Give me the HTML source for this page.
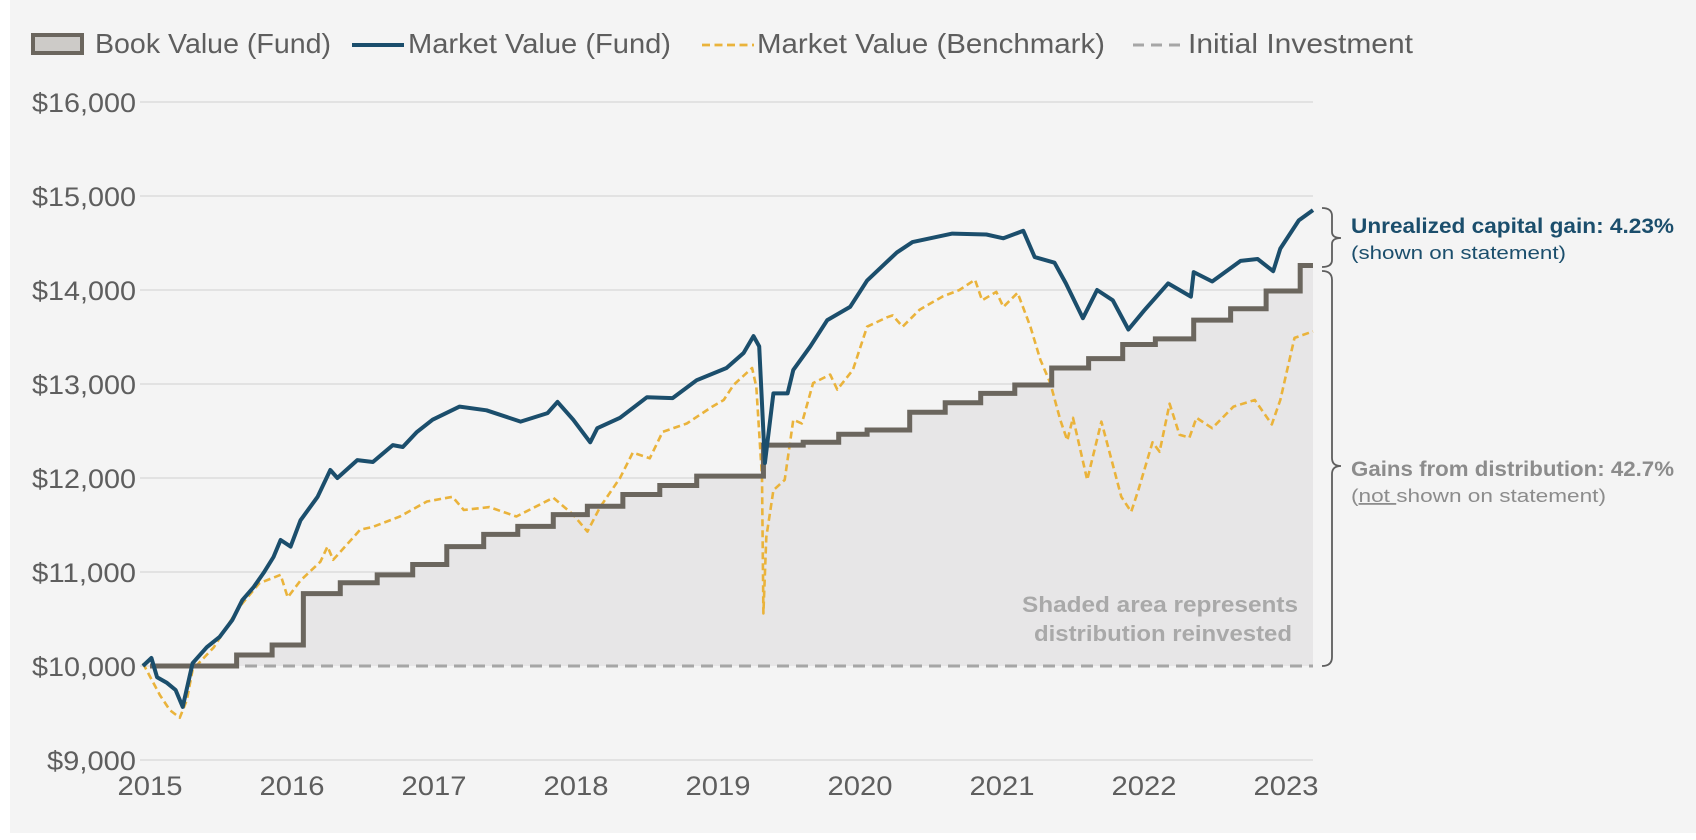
<!DOCTYPE html>
<html><head><meta charset="utf-8">
<style>
html,body{margin:0;padding:0;background:#fff;}
body{width:1696px;height:840px;overflow:hidden;font-family:"Liberation Sans",sans-serif;}
#panel{position:absolute;left:10px;top:0;width:1686px;height:833px;background:#f4f4f4;}
svg{position:absolute;left:0;top:0;}
</style></head>
<body>
<div id="panel"></div>
<svg id="chart" width="1696" height="840"></svg>
<script>
// ---- data ----
const yTicks = [9000,10000,11000,12000,13000,14000,15000,16000];
const yTickLabels = ["$9,000","$10,000","$11,000","$12,000","$13,000","$14,000","$15,000","$16,000"];
const xTicks = [2015,2016,2017,2018,2019,2020,2021,2022,2023];
const xTickLabels = ["2015","2016","2017","2018","2019","2020","2021","2022","2023"];
const initialInvestment = 10000;
const startDate = 2014.95;
const endDate = 2023.19;
const bookDates = [2015.0,2015.61,2015.86,2016.08,2016.34,2016.60,2016.85,2017.09,2017.35,2017.59,2017.84,2018.08,2018.33,2018.59,2018.85,2019.32,2019.60,2019.85,2020.05,2020.35,2020.60,2020.85,2021.09,2021.35,2021.61,2021.85,2022.08,2022.35,2022.61,2022.86,2023.10];
const bookValues = [10000,10117,10223,10770,10886,10970,11080,11270,11400,11485,11610,11700,11825,11920,12020,12350,12380,12465,12510,12700,12800,12900,12990,13170,13270,13420,13480,13680,13800,13990,14260];
const fundDates = [2014.95,2015.01,2015.05,2015.12,2015.18,2015.23,2015.30,2015.40,2015.49,2015.58,2015.65,2015.73,2015.80,2015.87,2015.92,2015.99,2016.06,2016.18,2016.27,2016.32,2016.46,2016.57,2016.71,2016.78,2016.88,2016.99,2017.18,2017.37,2017.61,2017.80,2017.87,2017.98,2018.10,2018.15,2018.31,2018.50,2018.68,2018.85,2019.06,2019.18,2019.25,2019.29,2019.33,2019.39,2019.49,2019.53,2019.65,2019.77,2019.93,2020.05,2020.26,2020.37,2020.65,2020.89,2021.01,2021.15,2021.23,2021.37,2021.45,2021.57,2021.67,2021.78,2021.89,2022.00,2022.17,2022.33,2022.35,2022.48,2022.68,2022.80,2022.91,2022.96,2023.09,2023.19];
const fundValues = [10000,10085,9880,9820,9745,9565,10030,10200,10310,10490,10700,10840,10990,11160,11340,11270,11550,11800,12085,12000,12190,12170,12350,12330,12490,12620,12760,12720,12600,12690,12810,12620,12380,12530,12640,12860,12850,13040,13170,13330,13510,13400,12160,12900,12900,13150,13400,13680,13820,14100,14400,14510,14600,14590,14550,14630,14350,14290,14070,13700,14000,13890,13580,13780,14070,13930,14190,14090,14310,14330,14200,14440,14740,14850];
const benchDates = [2014.95,2015.07,2015.14,2015.21,2015.26,2015.30,2015.45,2015.63,2015.77,2015.92,2015.97,2016.06,2016.20,2016.25,2016.29,2016.48,2016.57,2016.76,2016.95,2017.13,2017.21,2017.39,2017.58,2017.84,2017.98,2018.08,2018.17,2018.31,2018.40,2018.52,2018.61,2018.78,2018.96,2019.04,2019.11,2019.24,2019.27,2019.31,2019.32,2019.34,2019.39,2019.47,2019.53,2019.59,2019.67,2019.79,2019.84,2019.95,2020.05,2020.19,2020.23,2020.30,2020.42,2020.58,2020.70,2020.81,2020.86,2020.96,2021.01,2021.11,2021.20,2021.27,2021.34,2021.41,2021.46,2021.50,2021.60,2021.70,2021.84,2021.91,2021.96,2022.06,2022.11,2022.18,2022.25,2022.32,2022.37,2022.48,2022.63,2022.78,2022.90,2022.96,2023.06,2023.19];
const benchValues = [10030,9690,9530,9450,9640,9960,10200,10630,10880,10970,10730,10910,11110,11270,11130,11450,11480,11590,11750,11800,11660,11690,11590,11790,11610,11430,11690,12000,12270,12210,12490,12580,12760,12830,12990,13170,12970,12010,10560,11370,11870,11980,12620,12580,13010,13100,12940,13150,13610,13710,13730,13610,13790,13930,14000,14110,13890,13980,13820,13970,13610,13260,13010,12620,12400,12640,11980,12600,11800,11640,11870,12380,12280,12790,12460,12430,12640,12530,12760,12830,12570,12830,13490,13560];

// ---- axes ----
const X0 = 150, PXY = 142;
const xs = t => X0 + (t - 2015) * PXY;
const ys = v => 666 - (v - 10000) * 0.094;
const GRID_L = 140, GRID_R = 1313;
const NS = "http://www.w3.org/2000/svg";
const svg = document.getElementById("chart");
function mk(tag, attrs, parent){const e=document.createElementNS(NS,tag);for(const k in attrs)e.setAttribute(k,attrs[k]);(parent||svg).appendChild(e);return e;}

const gGrid = mk("g",{});


yTicks.forEach((v,i)=>{
  if (v !== initialInvestment) {
    const l = mk("line",{x1:GRID_L,x2:GRID_R,y1:ys(v),y2:ys(v),stroke:"#dcdcdc","stroke-width":1.5},gGrid);
    
    
  }
  const lab = yTickLabels[i];
  const w = lab.length >= 7 ? 104 : 89;
  const t = mk("text",{x:136-w,y:ys(v)+10,"font-size":27,fill:"#5e5e5e",textLength:w,lengthAdjust:"spacingAndGlyphs"});
  t.textContent = lab;
  
  
});
xTicks.forEach((yr,i)=>{
  const t = mk("text",{x:xs(yr)-32.5,y:795,"font-size":27,fill:"#5e5e5e",textLength:65,lengthAdjust:"spacingAndGlyphs"});
  t.textContent = xTickLabels[i];
  
  
});

let stepPts = [];
for (let i=0;i<bookDates.length;i++){
  const x = xs(bookDates[i]);
  if (i>0) stepPts.push([x, ys(bookValues[i-1])]);
  stepPts.push([x, ys(bookValues[i])]);
}
stepPts.push([xs(endDate), ys(bookValues[bookValues.length-1])]);
const fillD = "M"+stepPts.map(p=>p.join(",")).join(" L")+` L${xs(endDate)},${ys(initialInvestment)} L${xs(bookDates[0])},${ys(initialInvestment)} Z`;
const area = mk("path",{d:fillD,fill:"#e7e6e7"});



const init = mk("line",{x1:xs(bookDates[0]),x2:GRID_R,y1:ys(initialInvestment),y2:ys(initialInvestment),stroke:"#a6a6a6","stroke-width":3,"stroke-dasharray":"12,7"});


const gl9 = mk("line",{x1:GRID_L,x2:xs(bookDates[0]),y1:ys(initialInvestment),y2:ys(initialInvestment),stroke:"#dcdcdc","stroke-width":1.5});



const n1 = mk("text",{x:1022,y:612,"font-size":22,"font-weight":"bold",fill:"#a9a9a9",textLength:276,lengthAdjust:"spacingAndGlyphs"});
n1.textContent = "Shaded area represents";


const n2 = mk("text",{x:1034,y:641,"font-size":22,"font-weight":"bold",fill:"#a9a9a9",textLength:258,lengthAdjust:"spacingAndGlyphs"});
n2.textContent = "distribution reinvested";



const bd = benchDates.map((d,i)=>`${xs(d).toFixed(1)},${ys(benchValues[i]).toFixed(1)}`).join(" L");
const bench = mk("path",{d:"M"+bd,fill:"none",stroke:"#eab33b","stroke-width":2.6,"stroke-dasharray":"7,4","stroke-linejoin":"round"});



const book = mk("path",{d:"M"+stepPts.map(p=>p.join(",")).join(" L"),fill:"none",stroke:"#6b665e","stroke-width":5});



const fd = fundDates.map((d,i)=>`${xs(d).toFixed(1)},${ys(fundValues[i]).toFixed(1)}`).join(" L");
const fund = mk("path",{d:"M"+fd,fill:"none",stroke:"#1b4e6c","stroke-width":4,"stroke-linejoin":"round"});



const br1 = mk("path",{d:"M1322,208 Q1332,208 1332,216 L1332,232 Q1332,238 1341,238 Q1332,238 1332,244 L1332,260 Q1332,267 1322,267",fill:"none",stroke:"#5e5e5e","stroke-width":1.8});


const br2 = mk("path",{d:"M1322,271 Q1332,271 1332,280 L1332,458 Q1332,466 1341,466 Q1332,466 1332,474 L1332,657 Q1332,666 1322,666",fill:"none",stroke:"#5e5e5e","stroke-width":1.8});


</script>
<svg width="1696" height="840" style="position:absolute;left:0;top:0">
  <g font-family="Liberation Sans, sans-serif" font-size="28" fill="#5e5e5e">
    <rect x="33" y="35" width="49" height="18" fill="#cdcbc8" stroke="#6b665e" stroke-width="4"/>
    <text x="95" y="53" textLength="236" lengthAdjust="spacingAndGlyphs">Book Value (Fund)</text>
    <line x1="352" y1="45" x2="404" y2="45" stroke="#1b4e6c" stroke-width="4"/>
    <text x="408" y="53" textLength="263" lengthAdjust="spacingAndGlyphs">Market Value (Fund)</text>
    <line x1="702" y1="45" x2="754" y2="45" stroke="#eab33b" stroke-width="2.8" stroke-dasharray="8,4.5"/>
    <text x="757" y="53" textLength="348" lengthAdjust="spacingAndGlyphs">Market Value (Benchmark)</text>
    <line x1="1133" y1="45" x2="1181" y2="45" stroke="#a6a6a6" stroke-width="3" stroke-dasharray="11,7"/>
    <text x="1188" y="53" textLength="225" lengthAdjust="spacingAndGlyphs">Initial Investment</text>
  </g>
  <text x="1351" y="233" font-family="Liberation Sans, sans-serif" font-size="21" font-weight="bold" fill="#1b4e6c" textLength="323" lengthAdjust="spacingAndGlyphs">Unrealized capital gain: 4.23%</text>
  <text x="1351" y="259" font-family="Liberation Sans, sans-serif" font-size="18" fill="#1b4e6c" textLength="215" lengthAdjust="spacingAndGlyphs">(shown on statement)</text>
  <text x="1351" y="476" font-family="Liberation Sans, sans-serif" font-size="21" font-weight="bold" fill="#8c8c8c" textLength="323" lengthAdjust="spacingAndGlyphs">Gains from distribution: 42.7%</text>
  <text x="1351" y="502" font-family="Liberation Sans, sans-serif" font-size="18" fill="#8c8c8c" textLength="255" lengthAdjust="spacingAndGlyphs">(<tspan text-decoration="underline">not </tspan>shown on statement)</text>
</svg>
</body></html>
